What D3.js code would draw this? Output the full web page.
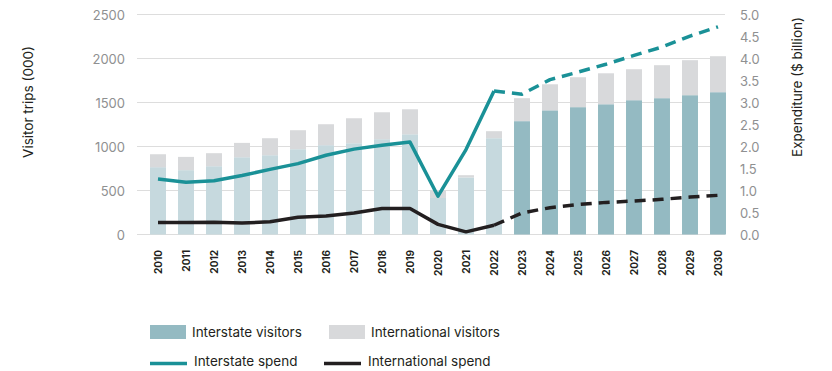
<!DOCTYPE html>
<html>
<head>
<meta charset="utf-8">
<script src="https://cdn.jsdelivr.net/npm/d3@7"></script>
<style>
  html, body { margin: 0; padding: 0; background: #fff; }
  svg { display: block; font-family: "Inter", "Liberation Sans", sans-serif; }
</style>
</head>
<body>
<svg id="chart" width="832" height="371"></svg>
<script>
const years = [2010,2011,2012,2013,2014,2015,2016,2017,2018,2019,2020,2021,2022,2023,2024,2025,2026,2027,2028,2029,2030];
const interstateVisitors = [765,731,776,878,901,969,1015,1037,1083,1139,415,648,1094,1288,1411,1447,1480,1526,1549,1583,1617];
const totalVisitors = [912,882,924,1041,1094,1185,1253,1321,1389,1423,495,674,1174,1549,1707,1787,1832,1878,1924,1981,2026];
const internationalVisitors = totalVisitors.map((t, i) => t - interstateVisitors[i]);
const firstProjectedYear = 2023;

const interstateSpendHist = [1.26,1.19,1.22,1.34,1.48,1.61,1.80,1.94,2.03,2.10,0.87,1.93,3.26];
const interstateSpendProj = [3.26,3.19,3.52,3.69,3.87,4.07,4.26,4.51,4.72];
const internationalSpendHist = [0.27,0.27,0.28,0.26,0.29,0.39,0.42,0.49,0.59,0.59,0.23,0.06,0.21];
const internationalSpendProj = [0.21,0.49,0.61,0.68,0.73,0.76,0.80,0.85,0.89];
const histYears = years.filter(y => y <= 2022);
const projYears = years.filter(y => y >= 2022);

const leftTicks = [0,500,1000,1500,2000,2500];
const rightTicks = [0,0.5,1,1.5,2,2.5,3,3.5,4,4.5,5];

const C = {
  interHist: "#c6d9de",
  interProj: "#94bac2",
  intl: "#d8d9db",
  teal: "#1a9197",
  black: "#231f20",
  grid: "#dddddd",
  tick: "#8f9091",
  text: "#231f20"
};

const svg = d3.select("#chart");
const x = d3.scaleBand().domain(years).range([144, 732]).paddingInner(0.43).paddingOuter(0.215);
const yL = d3.scaleLinear().domain([0, 2500]).range([234.5, 14.5]);
const yR = d3.scaleLinear().domain([0, 5]).range([234.5, 14.5]);

// gridlines
svg.append("g").selectAll("line").data(leftTicks).join("line")
  .attr("x1", 137).attr("x2", 725)
  .attr("y1", d => yL(d)).attr("y2", d => yL(d))
  .attr("stroke", C.grid).attr("stroke-width", 1);

// left axis
const axL = svg.append("g").attr("transform", "translate(125,0)")
  .call(d3.axisLeft(yL).tickValues(leftTicks).tickSize(0).tickPadding(0).tickFormat(d3.format("d")));
axL.select(".domain").remove();
axL.selectAll("text").attr("fill", C.tick).style("font-size", "13px").style("font-family", "Inter, sans-serif").attr("dy", "0.35em");

// right axis
const axR = svg.append("g").attr("transform", "translate(740,0)")
  .call(d3.axisRight(yR).tickValues(rightTicks).tickSize(0).tickPadding(0).tickFormat(d3.format(".1f")));
axR.select(".domain").remove();
axR.selectAll("text").attr("fill", C.tick).style("font-size", "13px").style("font-family", "Inter, sans-serif").attr("dy", "0.35em");

// bars
const bars = svg.append("g");
bars.selectAll("rect.inter").data(years).join("rect")
  .attr("x", d => x(d)).attr("width", x.bandwidth())
  .attr("y", (d, i) => yL(interstateVisitors[i]))
  .attr("height", (d, i) => yL(0) - yL(interstateVisitors[i]))
  .attr("fill", d => d >= firstProjectedYear ? C.interProj : C.interHist);
bars.selectAll("rect.intl").data(years).join("rect")
  .attr("x", d => x(d)).attr("width", x.bandwidth())
  .attr("y", (d, i) => yL(interstateVisitors[i] + internationalVisitors[i]))
  .attr("height", (d, i) => yL(interstateVisitors[i]) - yL(interstateVisitors[i] + internationalVisitors[i]))
  .attr("fill", C.intl);

// x labels
svg.append("g").selectAll("text").data(years).join("text")
  .attr("transform", d => `translate(${x(d) + x.bandwidth() / 2 + 3.5},250) rotate(-90)`)
  .attr("text-anchor", "end")
  .attr("fill", C.text)
  .style("font-size", "10px").style("font-weight", "700")
  .text(d => d);

// lines
const cx = d => x(d) + x.bandwidth() / 2;
const line = d3.line().x(d => cx(d[0])).y(d => yR(d[1]));
function drawLine(ys, vals, color, dashed) {
  svg.append("path")
    .datum(ys.map((y, i) => [y, vals[i]]))
    .attr("d", line)
    .attr("fill", "none")
    .attr("stroke", color)
    .attr("stroke-width", 3.5)
    .attr("stroke-linejoin", "round")
    .attr("stroke-dasharray", dashed ? "11,7" : null);
}
drawLine(histYears, interstateSpendHist, C.teal, false);
drawLine(projYears, interstateSpendProj, C.teal, true);
drawLine(histYears, internationalSpendHist, C.black, false);
drawLine(projYears, internationalSpendProj, C.black, true);

// axis titles
svg.append("text")
  .attr("transform", "translate(33,102) rotate(-90)")
  .attr("text-anchor", "middle").attr("fill", C.text)
  .style("font-size", "13.5px").text("Visitor trips (000)");
svg.append("text")
  .attr("transform", "translate(802,87) rotate(-90)")
  .attr("text-anchor", "middle").attr("fill", C.text)
  .style("font-size", "13.5px").text("Expenditure ($ billion)");

// legend
const legendRects = [
  { label: "Interstate visitors", color: C.interProj, x: 150 },
  { label: "International visitors", color: C.intl, x: 329 }
];
const legendLines = [
  { label: "Interstate spend", color: C.teal, x: 150 },
  { label: "International spend", color: C.black, x: 324 }
];
const lg = svg.append("g");
legendRects.forEach(d => {
  lg.append("rect").attr("x", d.x).attr("y", 325).attr("width", 36).attr("height", 14).attr("fill", d.color);
  lg.append("text").attr("x", d.x + 42).attr("y", 337).attr("fill", C.text).style("font-size", "13.5px").text(d.label);
});
legendLines.forEach(d => {
  lg.append("line").attr("x1", d.x).attr("x2", d.x + 37).attr("y1", 363.5).attr("y2", 363.5)
    .attr("stroke", d.color).attr("stroke-width", 3.5);
  lg.append("text").attr("x", d.x + 44).attr("y", 366).attr("fill", C.text).style("font-size", "13.5px").text(d.label);
});
</script>
</body>
</html>
